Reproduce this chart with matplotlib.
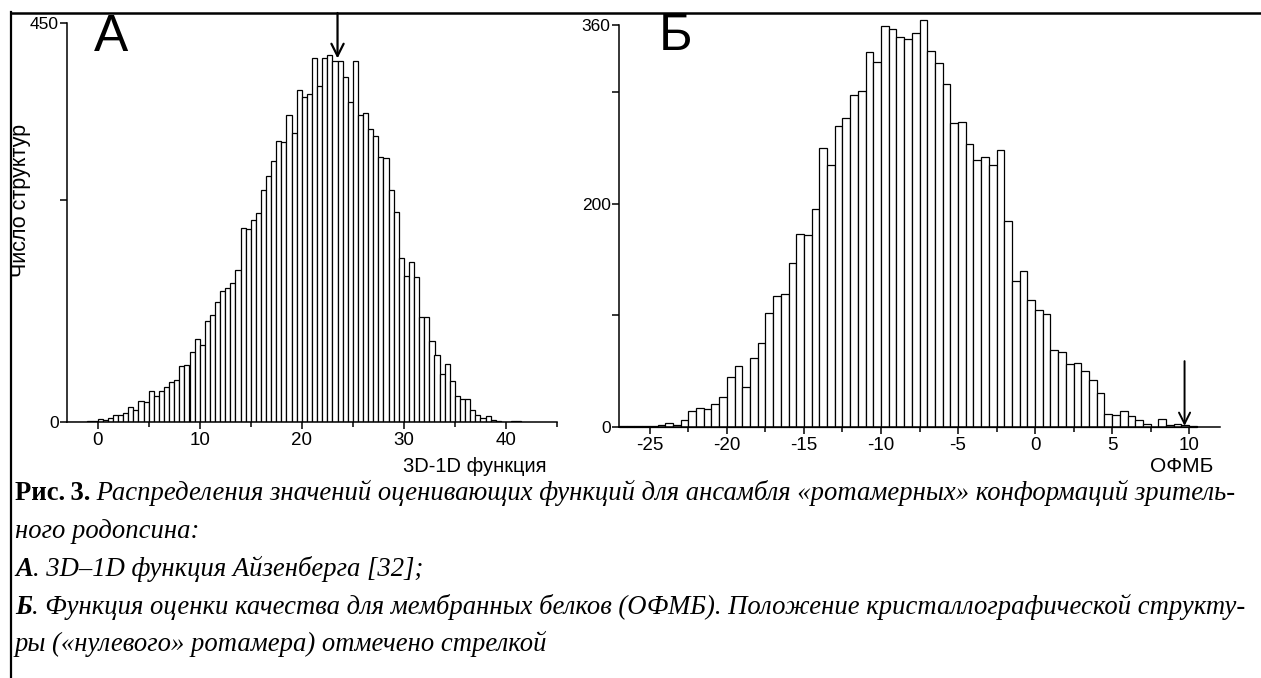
import matplotlib
matplotlib.use('Agg')
import matplotlib.pyplot as plt
from matplotlib.lines import Line2D
from matplotlib.ticker import FixedLocator
import numpy as np

# --- data ---
# panel A: 3D-1D score, bins 0.5 wide starting at -3.0
a_start = -3.0
a_bin = 0.5
a_counts = [0.5, 0, 0.5, 0.5, 1, 1, 3, 2, 5, 7.5,
            8, 10.5, 17, 14, 23.5, 22, 35, 29, 34.5, 39,
            45, 47, 63, 64, 79, 94, 87, 114, 121, 135,
            148, 151, 157, 171, 219, 218, 228, 236, 262, 277,
            294, 317, 316, 346, 326, 375, 367, 370, 411, 379,
            411, 414, 407, 407, 389, 361, 407, 346, 348, 330,
            323, 299, 298, 262, 237, 185, 165, 181, 163, 118,
            118, 91, 76, 54, 65, 46, 29, 26, 26, 14,
            8, 4, 7, 2, 1, 0.5, 0, 1, 1]
a_arrow_x = 23.5
a_arrow_tip = 410

# panel B: OFMB score, bins 0.5 wide starting at -27.0
b_start = -27.0
b_bin = 0.5
b_counts = [1, 1, 0.5, 0.5, 1, 1.5, 4, 1.5, 6.7, 14.5,
            17.3, 16.4, 20.3, 27, 44.4, 54.6, 35.5, 61.7, 74.8, 101.7,
            117.5, 119.5, 147, 173, 172, 195, 250, 234.5, 269.5, 276.5,
            297.5, 301, 335.5, 326.5, 359, 356.5, 349.5, 347.5, 352.5, 364.5,
            336.5, 326, 307, 272.5, 273.5, 253.5, 239, 241.5, 234.5, 248.5,
            184.5, 131, 140, 114, 105, 101, 69, 67.5, 56, 57.5,
            50.5, 42.5, 30.5, 11.5, 10.5, 14.5, 10, 6, 3, 0,
            7, 2, 3, 1.5, 1]
b_arrow_x = 9.7
b_arrow_from = 59
b_arrow_tip = 1

ylabel = 'Число структур'
a_xlabel = '3D-1D функция'
b_xlabel = 'ОФМБ'

caption = [
    [('Рис.\u20093.', 'bold', 'normal'),
     (' Распределения значений оценивающих функций для ансамбля «ротамерных» конформаций зритель-', 'normal', 'italic')],
    [('ного родопсина:', 'normal', 'italic')],
    [('А', 'bold', 'italic'), ('. 3D–1D функция Айзенберга [32];', 'normal', 'italic')],
    [('Б', 'bold', 'italic'),
     ('. Функция оценки качества для мембранных белков (ОФМБ). Положение кристаллографической структу-', 'normal', 'italic')],
    [('ры («нулевого» ротамера) отмечено стрелкой', 'normal', 'italic')],
]

plt.rcParams['font.family'] = ['Liberation Sans', 'DejaVu Sans']
plt.rcParams['axes.unicode_minus'] = False

W, H = 1261, 678
fig = plt.figure(figsize=(W / 100, H / 100), dpi=100)


def px_axes(x0, x1, ytop, ybot):
    return fig.add_axes([x0 / W, 1 - ybot / H, (x1 - x0) / W, (ybot - ytop) / H])


def style_axes(ax):
    for s in ['top', 'right']:
        ax.spines[s].set_visible(False)
    for s in ['left', 'bottom']:
        ax.spines[s].set_linewidth(1.1)
    ax.tick_params(which='major', direction='out', length=5, width=1.1, labelsize=13.5, pad=2)
    ax.tick_params(which='minor', direction='out', length=3.8, width=1.1)
    ax.tick_params(axis='y', labelsize=12.5, pad=1)
    ax.set_facecolor('none')


# ---- panel A ----
axA = px_axes(67, 557, 23, 422)
a_left = a_start + a_bin * np.arange(len(a_counts))
axA.bar(a_left, a_counts, width=a_bin, align='edge', color='white',
        edgecolor='black', linewidth=0.9)
axA.set_xlim(-3, 45)
axA.set_ylim(0, 450)
axA.xaxis.set_major_locator(FixedLocator([0, 10, 20, 30, 40]))
axA.xaxis.set_minor_locator(FixedLocator([5, 15, 25, 35, 45]))
axA.yaxis.set_major_locator(FixedLocator([0, 250, 450]))
axA.set_yticklabels(['0', '', '450'])
style_axes(axA)
axA.annotate('', xy=(a_arrow_x, a_arrow_tip), xytext=(a_arrow_x, 1 - 13 / H),
             xycoords='data', textcoords=('data', 'figure fraction'),
             arrowprops=dict(arrowstyle='->', lw=1.6, color='black', mutation_scale=22,
                             shrinkA=0, shrinkB=0))

# ---- panel B ----
axB = px_axes(619, 1220, 25, 427)
b_left = b_start + b_bin * np.arange(len(b_counts))
axB.bar(b_left, b_counts, width=b_bin, align='edge', color='white',
        edgecolor='black', linewidth=0.9, clip_on=False)
axB.set_xlim(-27, 12)
axB.set_ylim(0, 360)
axB.xaxis.set_major_locator(FixedLocator([-25, -20, -15, -10, -5, 0, 5, 10]))
axB.xaxis.set_minor_locator(FixedLocator([-22.5, -17.5, -12.5, -7.5, -2.5, 2.5, 7.5]))
axB.yaxis.set_major_locator(FixedLocator([0, 100, 200, 300, 360]))
axB.set_yticklabels(['0', '', '200', '', '360'])
style_axes(axB)
axB.annotate('', xy=(b_arrow_x, b_arrow_tip), xytext=(b_arrow_x, b_arrow_from),
             arrowprops=dict(arrowstyle='->', lw=1.4, color='black', mutation_scale=20,
                             shrinkA=0, shrinkB=0))

# axis titles and panel letters
fig.text(21 / W, 1 - 200 / H, ylabel, rotation=90, ha='center', va='center', fontsize=15.5)
fig.text(475 / W, 1 - 467 / H, a_xlabel, ha='center', va='center', fontsize=14.5)
fig.text(1182 / W, 1 - 467 / H, b_xlabel, ha='center', va='center', fontsize=15)
fig.text(94 / W, 1 - 51 / H, 'А', fontsize=37, va='baseline', ha='left')
fig.text(659 / W, 1 - 50 / H, 'Б', fontsize=37, va='baseline', ha='left')

# frame lines
fig.add_artist(Line2D([11 / W, 11 / W], [0, 1 - 12 / H], transform=fig.transFigure,
                      color='black', lw=1.6))
fig.add_artist(Line2D([11 / W, 1], [1 - 12.5 / H, 1 - 12.5 / H], transform=fig.transFigure,
                      color='black', lw=1.8))

# caption, piece by piece; size picked so the widest line ends near x=1240
renderer = fig.canvas.get_renderer()
serif = ['Liberation Serif', 'DejaVu Serif']


def draw_line(y, pieces, size):
    x = 15 / W
    drawn = []
    for txt, weight, style in pieces:
        t = fig.text(x, 1 - y / H, txt, fontsize=size, fontweight=weight, fontstyle=style,
                     family=serif, va='center', ha='left')
        x += t.get_window_extent(renderer=renderer).width / W
        drawn.append(t)
    return drawn, x * W


test, end = draw_line(607, caption[3], 20)
for t in test:
    t.remove()
cap_size = 20 * (1240 - 15) / (end - 15)

line_y = [493, 531, 569, 607, 644]
for y, pieces in zip(line_y, caption):
    draw_line(y, pieces, cap_size)

fig.savefig('out.png', dpi=100)
